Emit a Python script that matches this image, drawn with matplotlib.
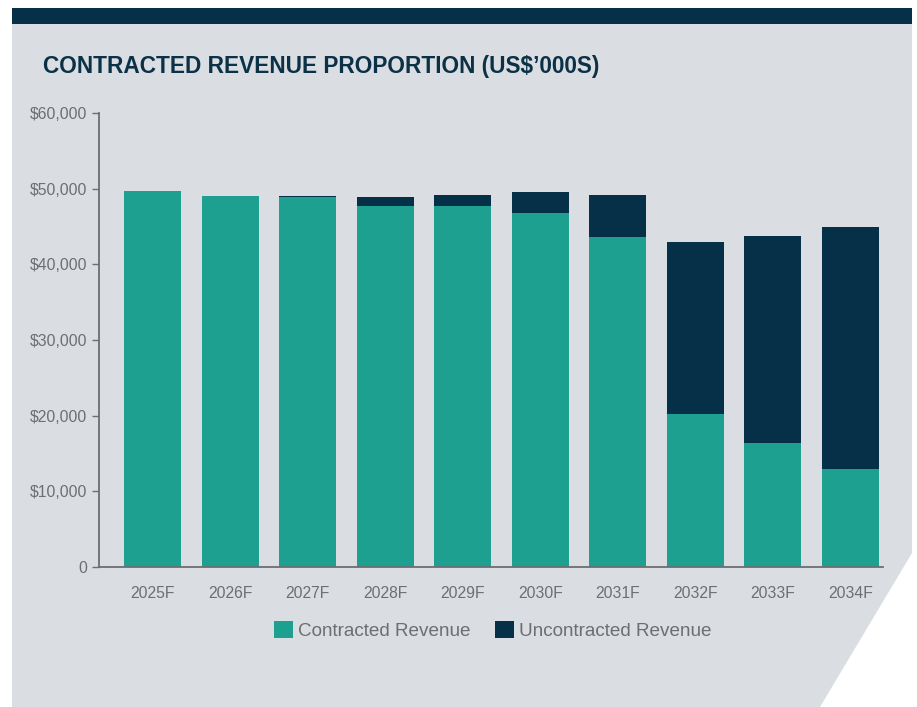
import matplotlib
matplotlib.use("Agg")
import matplotlib.pyplot as plt
from matplotlib.patches import Polygon, Rectangle, Patch
from matplotlib.ticker import FuncFormatter

categories = ["2025F", "2026F", "2027F", "2028F", "2029F", "2030F", "2031F", "2032F", "2033F", "2034F"]
contracted = [49700, 49000, 48900, 47700, 47700, 46800, 43600, 20200, 16400, 12950]
uncontracted = [0, 0, 170, 1200, 1450, 2750, 5550, 22750, 27350, 32000]
y_ticks = [0, 10000, 20000, 30000, 40000, 50000, 60000]
title = "CONTRACTED REVENUE PROPORTION (US$\u2019000S)"
series_labels = ["Contracted Revenue", "Uncontracted Revenue"]

TEAL = "#1da08f"
NAVY = "#063047"
PANEL = "#dadde1"
GREY = "#6d6e71"

W, H = 917, 707
fig = plt.figure(figsize=(W / 100, H / 100), dpi=100)
fig.patch.set_facecolor("white")

def fc(x, y):
    return (x / W, 1 - y / H)

panel = Polygon([fc(12, 24), fc(912, 24), fc(912, 553), fc(820, 707), fc(12, 707)],
                closed=True, transform=fig.transFigure, facecolor=PANEL, edgecolor="none", zorder=-2)
fig.patches.append(panel)
topbar = Rectangle(fc(12, 24), 900 / W, 16 / H, transform=fig.transFigure,
                   facecolor=NAVY, edgecolor="none", zorder=-1)
fig.patches.append(topbar)

fig.text(43 / W, 1 - 73 / H, title, fontsize=16.3, fontweight="bold", color="#0b3147",
         family="Liberation Sans", ha="left", va="baseline")

ax = fig.add_axes([99 / W, 1 - 567 / H, (883 - 99) / W, (567 - 113) / H])
ax.set_zorder(2)
ax.set_facecolor("none")
x = list(range(len(categories)))
ax.bar(x, contracted, width=0.735, color=TEAL, zorder=2)
ax.bar(x, uncontracted, width=0.735, bottom=contracted, color=NAVY, zorder=2)

ax.set_xlim(-0.69, 9.42)
ax.set_ylim(0, 60000)
ax.set_yticks(y_ticks)
ax.yaxis.set_major_formatter(FuncFormatter(lambda v, p: "0" if v == 0 else f"${v:,.0f}"))
ax.set_xticks(x)
ax.set_xticklabels(categories)
for s in ["top", "right"]:
    ax.spines[s].set_visible(False)
for s in ["left", "bottom"]:
    ax.spines[s].set_color(GREY)
    ax.spines[s].set_linewidth(1.3)
ax.tick_params(axis="y", length=5, width=1.0, color=GREY, pad=3.5, labelsize=11.3, labelcolor=GREY)
ax.tick_params(axis="x", length=0, pad=14, labelsize=11.3, labelcolor=GREY)
for lab in ax.get_xticklabels() + ax.get_yticklabels():
    lab.set_family("Liberation Sans")

handles = [Patch(facecolor=TEAL, edgecolor="none"), Patch(facecolor=NAVY, edgecolor="none")]
leg = fig.legend(handles, series_labels, loc="center", bbox_to_anchor=(492.5 / W, 1 - 630.5 / H),
                 ncol=2, frameon=False, handlelength=1.0, handleheight=1.0, handletextpad=0.27,
                 columnspacing=1.3, prop={"family": "Liberation Sans", "size": 13.6})
for t in leg.get_texts():
    t.set_color(GREY)

fig.savefig("out.png", dpi=100, facecolor="white")
